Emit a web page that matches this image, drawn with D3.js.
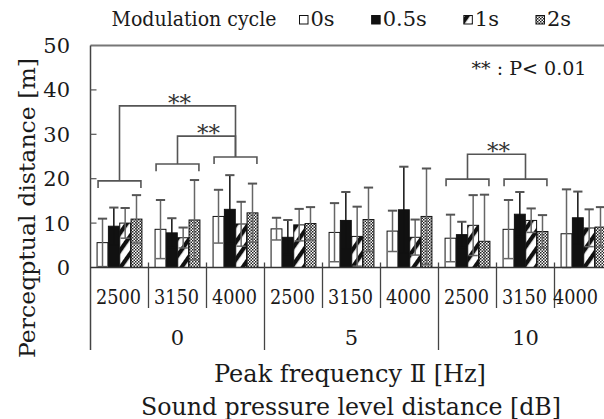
<!DOCTYPE html>
<html>
<head>
<meta charset="utf-8">
<script src="https://cdn.jsdelivr.net/npm/d3@7"></script>
<style>
  html, body { margin: 0; padding: 0; background: #fff; }
  svg { display: block; font-family: "DejaVu Serif", "Liberation Serif", serif; }
</style>
</head>
<body>
<svg id="chart"></svg>
<script>
// Sound pressure level distance groups and peak frequency categories
const groups = ['0', '5', '10']
const freqs = ['2500', '3150', '4000']
const series = ['0s', '0.5s', '1s', '2s']
const yTicks = [0, 10, 20, 30, 40, 50]

// Means per modulation cycle (9 categories: group x frequency)
const mean0s  = [5.6, 8.6, 11.5, 8.7, 7.9, 8.2, 6.6, 8.6, 7.6]
const mean05s = [9.3, 7.8, 13.1, 6.8, 10.6, 13.0, 7.4, 12.0, 11.2]
const mean1s  = [10.0, 6.7, 9.8, 9.6, 7.0, 6.8, 9.5, 10.6, 8.9]
const mean2s  = [10.9, 10.7, 12.3, 9.9, 10.8, 11.5, 5.9, 8.1, 9.1]

// Standard deviations
const sd0s  = [5.4, 6.6, 6.0, 2.5, 6.6, 4.6, 5.3, 6.6, 10.0]
const sd05s = [4.2, 3.3, 7.7, 3.9, 6.4, 9.7, 2.9, 5.0, 5.9]
const sd1s  = [3.4, 2.3, 5.0, 3.6, 6.7, 4.0, 6.8, 2.7, 4.2]
const sd2s  = [5.4, 9.0, 6.6, 3.7, 7.2, 10.8, 10.5, 3.7, 4.5]

// Significance brackets: category index and bracket level (data units)
const catBrackets = [
  { cat: 0, y: 19.5 }, { cat: 1, y: 23.3 }, { cat: 2, y: 24.9 },
  { cat: 6, y: 19.9 }, { cat: 7, y: 19.9 }
]
const sigPairs = [
  { a: 0, b: 2, y: 36.4 }, { a: 1, b: 2, y: 29.6 }, { a: 6, b: 7, y: 25.5 }
]

const W = 604, H = 419
const means = [mean0s, mean05s, mean1s, mean2s]
const sds = [sd0s, sd05s, sd1s, sd2s]

const cats = []
groups.forEach(g => freqs.forEach(f => cats.push({ id: g + '-' + f, group: g, freq: f })))

const rows = []
cats.forEach((c, i) => series.forEach((s, j) => {
  rows.push({ cat: c.id, series: s, mean: means[j][i], sd: sds[j][i] })
}))

const svg = d3.select('#chart').attr('width', W).attr('height', H)

const left = 90.5, step = 58
const x = d3.scaleBand().domain(cats.map(c => c.id)).range([left, left + step * cats.length])
const xs = d3.scaleBand().domain(series).range([0, x.bandwidth()]).paddingInner(0.04).paddingOuter(0.58)
const y = d3.scaleLinear().domain([0, 50]).range([267.5, 45.5])

// Patterns
const defs = svg.append('defs')
const hatch = defs.append('pattern').attr('id', 'hatch')
  .attr('patternUnits', 'userSpaceOnUse').attr('width', 10).attr('height', 10)
  .attr('patternTransform', 'rotate(35)')
hatch.append('rect').attr('width', 10).attr('height', 10).attr('fill', '#fff')
hatch.append('rect').attr('width', 4.2).attr('height', 10).attr('fill', '#111')

const dots = defs.append('pattern').attr('id', 'dots')
  .attr('patternUnits', 'userSpaceOnUse').attr('width', 3).attr('height', 3)
dots.append('rect').attr('width', 3).attr('height', 3).attr('fill', '#fff')
dots.append('rect').attr('width', 1.5).attr('height', 1.5).attr('fill', '#222')
dots.append('rect').attr('x', 1.5).attr('y', 1.5).attr('width', 1.5).attr('height', 1.5).attr('fill', '#222')

const fills = d3.scaleOrdinal().domain(series).range(['#fff', '#111', 'url(#hatch)', 'url(#dots)'])

// Frame: top line
svg.append('line').attr('x1', left).attr('x2', W).attr('y1', y(50)).attr('y2', y(50))
  .attr('stroke', '#777').attr('stroke-width', 2)

// Bars
svg.append('g').selectAll('rect')
  .data(rows)
  .join('rect')
    .attr('x', d => x(d.cat) + xs(d.series))
    .attr('y', d => y(d.mean))
    .attr('width', xs.bandwidth())
    .attr('height', d => y(0) - y(d.mean))
    .attr('fill', d => fills(d.series))
    .attr('stroke', '#111')
    .attr('stroke-width', 1)

// Error bars (upper and lower whiskers with caps)
const cap = xs.bandwidth() * 0.85
const eb = svg.append('g').selectAll('g').data(rows).join('g')
  .attr('transform', d => `translate(${x(d.cat) + xs(d.series) + xs.bandwidth() / 2},0)`)
  .attr('stroke', d => d.series === '0.5s' ? '#111' : '#666')
  .attr('stroke-width', 1.5)
eb.append('line').attr('y1', d => y(Math.max(0, d.mean - d.sd))).attr('y2', d => y(d.mean + d.sd))
eb.append('line').attr('x1', -cap / 2).attr('x2', cap / 2)
  .attr('y1', d => y(d.mean + d.sd)).attr('y2', d => y(d.mean + d.sd))
  .attr('stroke', '#555').attr('stroke-width', 2)
eb.append('line').attr('x1', -cap / 2).attr('x2', cap / 2)
  .attr('y1', d => y(Math.max(0, d.mean - d.sd))).attr('y2', d => y(Math.max(0, d.mean - d.sd)))

// Y axis
const yAxis = svg.append('g')
yAxis.append('line').attr('x1', left).attr('x2', left).attr('y1', y(50)).attr('y2', 350)
  .attr('stroke', '#444').attr('stroke-width', 1.5)
yAxis.selectAll('.tk').data(yTicks.slice(1, -1)).join('line')
  .attr('x1', left).attr('x2', left + 6).attr('y1', d => y(d)).attr('y2', d => y(d))
  .attr('stroke', '#555').attr('stroke-width', 1.2)
yAxis.selectAll('text').data(yTicks).join('text')
  .attr('x', 70).attr('y', d => y(d)).attr('dy', '0.36em')
  .attr('text-anchor', 'end').attr('font-size', 21).attr('fill', '#1a1a1a')
  .text(d => d)

// X axis line and category separators
svg.append('line').attr('x1', left).attr('x2', W).attr('y1', y(0)).attr('y2', y(0))
  .attr('stroke', '#333').attr('stroke-width', 1.5)
const seps = cats.slice(1).map((c, i) => ({ x: x(c.id), major: (i + 1) % freqs.length === 0 }))
svg.append('g').selectAll('line').data(seps).join('line')
  .attr('x1', d => d.x).attr('x2', d => d.x)
  .attr('y1', y(0) - 5).attr('y2', d => d.major ? 350 : 308)
  .attr('stroke', '#444').attr('stroke-width', 1.3)

// Frequency labels (the last one is kept inside the page edge)
const labW = 45
svg.append('g').selectAll('text').data(cats).join('text')
  .attr('x', d => Math.min(x(d.id) + x.bandwidth() / 2 - 1, W - 6 - labW / 2)).attr('y', 303.5)
  .attr('text-anchor', 'middle').attr('font-size', 20).attr('fill', '#1a1a1a')
  .attr('textLength', labW).attr('lengthAdjust', 'spacingAndGlyphs')
  .text(d => d.freq)

svg.append('g').selectAll('text').data(groups).join('text')
  .attr('x', g => {
    const ids = cats.filter(c => c.group === g).map(c => c.id)
    return (x(ids[0]) + x(ids[ids.length - 1]) + x.bandwidth()) / 2
  })
  .attr('y', 344.5)
  .attr('text-anchor', 'middle').attr('font-size', 21).attr('fill', '#1a1a1a')
  .text(g => g)

// Significance brackets
const br = svg.append('g').attr('stroke', '#555').attr('stroke-width', 1.6).attr('fill', 'none')
const bx0 = i => x(cats[i].id) + xs(series[0]) + 1
const bx1 = i => x(cats[i].id) + xs(series[series.length - 1]) + xs.bandwidth() - 1
const bmid = i => (bx0(i) + bx1(i)) / 2
const tickLen = 1.6
br.selectAll('path.cb').data(catBrackets).join('path')
  .attr('d', d => `M${bx0(d.cat)},${y(d.y - tickLen)}V${y(d.y)}H${bx1(d.cat)}V${y(d.y - tickLen)}`)
const byCat = new Map(catBrackets.map(d => [d.cat, d.y]))
br.selectAll('path.sp').data(sigPairs).join('path')
  .attr('d', d => `M${bmid(d.a)},${y(byCat.get(d.a))}V${y(d.y)}H${bmid(d.b)}V${y(byCat.get(d.b))}`)
svg.append('g').selectAll('text').data(sigPairs).join('text')
  .attr('x', d => (bmid(d.a) + bmid(d.b)) / 2 + 2)
  .attr('y', d => y(d.y) + 5)
  .attr('text-anchor', 'middle').attr('font-size', 23).attr('fill', '#333')
  .text('**')

svg.append('text').attr('x', 471.5).attr('y', 75).attr('font-size', 19).attr('fill', '#1a1a1a')
  .attr('textLength', 115).attr('lengthAdjust', 'spacingAndGlyphs')
  .text('** : P< 0.01')

// Legend
const lg = svg.append('g').attr('font-size', 21).attr('fill', '#1a1a1a')
lg.append('text').attr('x', 111.5).attr('y', 25.5)
  .attr('textLength', 165).attr('lengthAdjust', 'spacingAndGlyphs')
  .text('Modulation cycle')
let lx = 299.5
series.forEach(s => {
  lg.append('rect').attr('x', lx).attr('y', 15.5).attr('width', 8.5).attr('height', 8.5)
    .attr('fill', fills(s)).attr('stroke', '#111').attr('stroke-width', 1)
  const t = lg.append('text').attr('x', lx + 11).attr('y', 25.5).text(s)
  lx += 11 + t.node().getComputedTextLength() + 37
})

// Axis titles
svg.append('text')
  .attr('transform', `translate(35,${208}) rotate(-90)`)
  .attr('text-anchor', 'middle').attr('font-size', 22).attr('fill', '#1a1a1a')
  .attr('textLength', 300).attr('lengthAdjust', 'spacingAndGlyphs')
  .text('Perceqptual distance [m]')
svg.append('text').attr('x', 350).attr('y', 381.5)
  .attr('text-anchor', 'middle').attr('font-size', 24).attr('fill', '#1a1a1a')
  .attr('textLength', 272).attr('lengthAdjust', 'spacingAndGlyphs')
  .text('Peak frequency Ⅱ [Hz]')
svg.append('text').attr('x', 351).attr('y', 414.5)
  .attr('text-anchor', 'middle').attr('font-size', 24).attr('fill', '#1a1a1a')
  .attr('textLength', 420).attr('lengthAdjust', 'spacingAndGlyphs')
  .text('Sound pressure level distance [dB]')
</script>
</body>
</html>
